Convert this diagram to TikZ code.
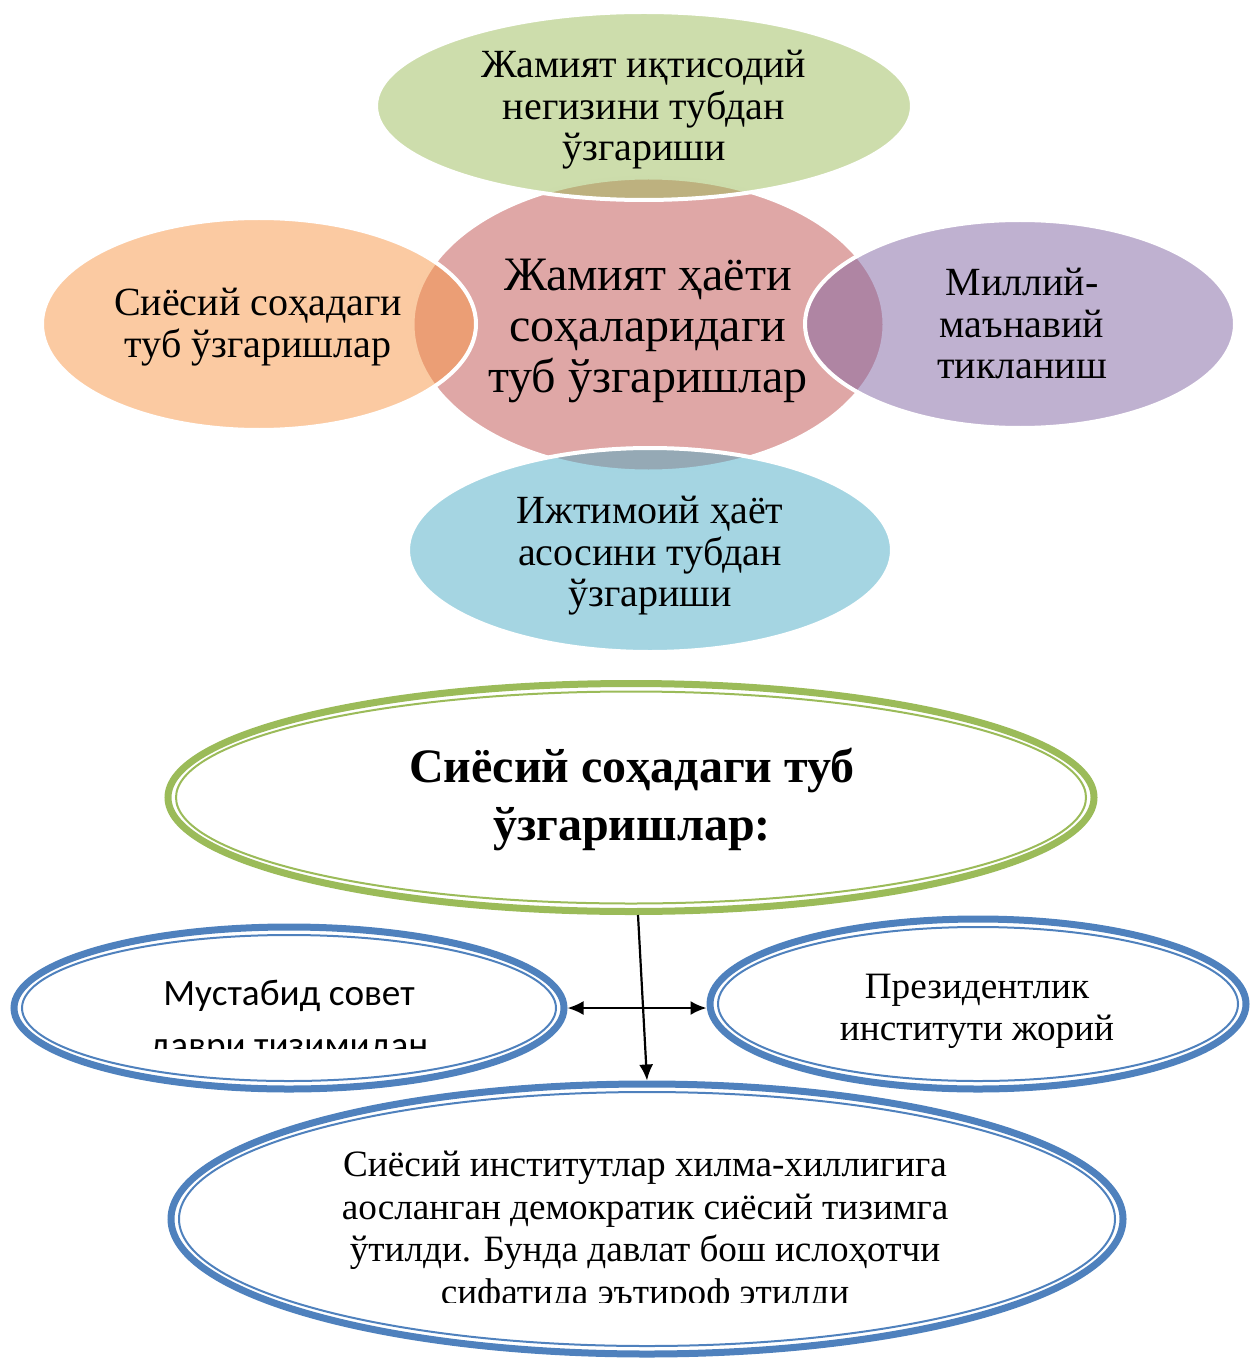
\documentclass[tikz,border=0pt]{standalone}
\usepackage{fontspec}
\setmainfont{Liberation Serif}
\newfontfamily\calibri{Carlito}
\usetikzlibrary{shapes.geometric}
\usetikzlibrary{arrows.meta}

\definecolor{accgreen}{HTML}{9BBB59}
\definecolor{accred}{HTML}{C0504D}
\definecolor{accblue}{HTML}{4F81BD}
\definecolor{accpurple}{HTML}{8064A2}
\definecolor{accorange}{HTML}{F79646}
\definecolor{accaqua}{HTML}{4BACC6}

\tikzset{
  petal/.style={ellipse, inner sep=0pt, fill=#1, fill opacity=0.5,
    draw=white, draw opacity=1, line width=2pt},
  petaltxt/.style={align=center, inner sep=0pt,
    font=\fontsize{20}{20.75}\selectfont},
  ringout/.style={ellipse, inner sep=0pt, draw=#1, line width=3.5pt},
  ringin/.style={draw=#1, line width=1pt},
  plaintxt/.style={align=center, inner sep=0pt,
    font=\fontsize{18.6}{21}\selectfont},
  link/.style={line width=1.1pt},
}

\begin{document}
\begin{tikzpicture}[x=0.5pt, y=-0.5pt]
    \useasboundingbox (0,0) rectangle (1259,1358);

    % top part: radial venn
    \node [petal=accred, minimum width=236pt, minimum height=147pt] (centre) at (648.5,324.5) {};
    \node [petal=accgreen, minimum width=268pt, minimum height=94pt] (iqtisod) at (644,106) {};
    \node [petal=accorange, minimum width=217pt, minimum height=106pt] (siyosat) at (259,324) {};
    \node [petal=accpurple, minimum width=215pt, minimum height=104pt] (manaviy) at (1020,324) {};
    \node [petal=accaqua, minimum width=242pt, minimum height=102pt] (ijtimoiy) at (650,550) {};

    \node [petaltxt] (iqtisodtxt) at (644,110) {Жамият иқтисодий\\негизини тубдан\\ўзгариши};
    \node [petaltxt] (siyosattxt) at (258,327) {Сиёсий соҳадаги\\туб ўзгаришлар};
    \node [petaltxt] (manaviytxt) at (1022,324) {Миллий-\\маънавий\\тикланиш};
    \node [petaltxt] (ijtimoiytxt) at (650,556) {Ижтимоий ҳаёт\\асосини тубдан\\ўзгариши};
    \node [petaltxt, font=\fontsize{24}{25.5}\selectfont] (centretxt) at (648,331)
      {Жамият ҳаёти\\соҳаларидаги\\туб ўзгаришлар};

    % bottom part
    \node [ringout=accgreen, minimum width=463pt, minimum height=114pt] (siyosiy) at (631,797.5) {};
    \draw [ringin=accgreen] (siyosiy.center) ellipse [x radius=227.5pt, y radius=53pt];
    \node [plaintxt, font=\fontsize{24}{29}\selectfont\bfseries] (siyosiytxt) at (632,799)
      {Сиёсий соҳадаги туб\\ўзгаришлар:};

    \node [ringout=accblue, minimum width=275pt, minimum height=81pt] (mustabid) at (289,1008) {};
    \draw [ringin=accblue] (mustabid.center) ellipse [x radius=133.5pt, y radius=36.5pt];

    \node [ringout=accblue, minimum width=268pt, minimum height=85pt] (prezident) at (978,1004) {};
    \draw [ringin=accblue] (prezident.center) ellipse [x radius=130pt, y radius=38.5pt];
    \node [plaintxt] (prezidenttxt) at (977,1011) {Президентлик\\институти жорий};

    \node [ringout=accblue, minimum width=476pt, minimum height=135pt] (tizim) at (647,1219) {};
    \draw [ringin=accblue] (tizim.center) ellipse [x radius=234pt, y radius=63.5pt];

    \begin{scope}
      \clip (0,0) rectangle (1259,1048);
      \node [plaintxt, font=\calibri\fontsize{18.6}{26}\selectfont] (mustabidtxt) at (289,1022)
        {Мустабид совет\\даври тизимидан};
    \end{scope}
    \begin{scope}
      \clip (0,0) rectangle (1259,1302);
      \node [plaintxt, font=\fontsize{18.6}{21.25}\selectfont] (tizimtxt) at (645,1231.5)
        {Сиёсий институтлар хилма-хиллигига\\аосланган демократик сиёсий тизимга\\ўтилди. Бунда давлат бош ислоҳотчи\\сифатида эътироф этилди};
    \end{scope}

    \draw [link, -{Latex[length=8pt,width=7pt]}] ([xshift=3.5pt]siyosiy.south) -- (tizim.north);
    \draw [link, {Latex[length=8pt,width=7pt]}-{Latex[length=8pt,width=7pt]}]
      (mustabid.east) -- (mustabid.east -| prezident.west);
\end{tikzpicture}
\end{document}
